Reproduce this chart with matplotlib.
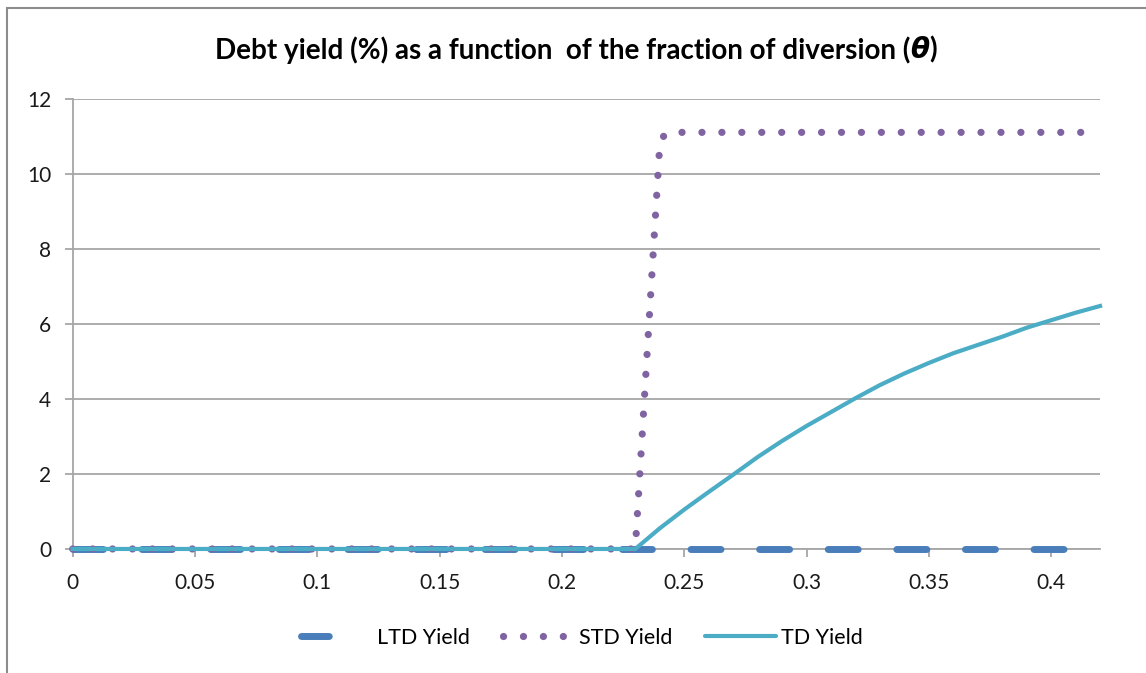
import matplotlib
matplotlib.use('Agg')
import matplotlib.pyplot as plt
from matplotlib.patches import Rectangle
from matplotlib.lines import Line2D

# Dados
ltd_x = [0.0, 0.41]
ltd_y = [0.0, 0.0]

std_x = [0.0, 0.23, 0.2400, 0.2415, 0.2435, 0.42]
std_y = [0.0, 0.0, 10.77, 11.00, 11.11, 11.11]

td_x = [0.0, 0.23, 0.24, 0.25, 0.26, 0.27, 0.28, 0.29, 0.30, 0.31, 0.32,
        0.33, 0.34, 0.35, 0.36, 0.37, 0.38, 0.39, 0.40, 0.41, 0.42]
td_y = [0.0, 0.0, 0.55, 1.05, 1.52, 1.98, 2.45, 2.88, 3.28, 3.65, 4.02,
        4.37, 4.68, 4.96, 5.22, 5.44, 5.66, 5.90, 6.10, 6.30, 6.48]

x_ticks = [0, 0.05, 0.1, 0.15, 0.2, 0.25, 0.3, 0.35, 0.4]
x_tick_labels = ['0', '0.05', '0.1', '0.15', '0.2', '0.25', '0.3', '0.35', '0.4']
y_ticks = [0, 2, 4, 6, 8, 10, 12]

series_names = ['LTD Yield', 'STD Yield', 'TD Yield']
ltd_color = '#4a7ebb'
std_color = '#8064a2'
td_color = '#4bacc6'

plt.rcParams['font.family'] = ['Lato', 'DejaVu Sans']

fig = plt.figure(figsize=(11.46, 6.73), dpi=100)
ax = fig.add_axes([0.0634, 0.1843, 0.8965, 0.6686])

grid_color = '#a6a6a6'

# borda do gráfico (só esquerda e topo ficam visíveis)
fig.patches.append(Rectangle((7 / 1146, -0.05), 1.2, 1 - 8 / 673 + 0.05,
                             transform=fig.transFigure, fill=False,
                             edgecolor='#8c8c8c', linewidth=1.5))

ax.plot(ltd_x, ltd_y, color=ltd_color, linewidth=5.0,
        linestyle=(0, (4.32, 5.56)), dash_capstyle='round',
        zorder=3, clip_on=False)
ax.plot(std_x, std_y, color=std_color, linewidth=5.2,
        linestyle=(0, (0.01, 2.75)), dash_capstyle='round',
        zorder=4, clip_on=False)
ax.plot(td_x, td_y, color=td_color, linewidth=3.0,
        zorder=5, clip_on=False)

ax.set_xlim(0, 0.42)
ax.set_ylim(0, 12)
ax.set_xticks(x_ticks)
ax.set_xticklabels(x_tick_labels)
ax.set_yticks(y_ticks)

ax.grid(axis='y', color=grid_color, linewidth=1.3)
ax.set_axisbelow(True)
for s in ['top', 'right']:
    ax.spines[s].set_visible(False)
for s in ['left', 'bottom']:
    ax.spines[s].set_color(grid_color)
    ax.spines[s].set_linewidth(1.3)
ax.tick_params(axis='both', colors=grid_color, labelcolor='#1a1a1a',
               labelsize=15, length=5.5, width=1.3)
ax.tick_params(axis='x', pad=12)
ax.tick_params(axis='y', pad=10)

# título com θ em negrito itálico
t1 = fig.text(215 / 1146, 1 - 50 / 673,
              'Debt yield (%) as a function  of the fraction of diversion (',
              fontsize=20, fontweight='bold', va='center', ha='left')
t2 = ax.annotate('θ', xycoords=t1, xy=(1, 0), va='bottom',
                 fontsize=20, fontweight='bold', fontstyle='italic',
                 family=['DejaVu Sans'], annotation_clip=False)
ax.annotate(')', xycoords=t2, xy=(1, 0), va='bottom',
            fontsize=20, fontweight='bold', annotation_clip=False)

# legenda com marcas próprias (um traço só para LTD)
handles = [
    Line2D([], [], color=ltd_color, linewidth=5.0,
           linestyle=(0, (4.0, 20)), dash_capstyle='round'),
    Line2D([], [], color=std_color, linewidth=5.2,
           linestyle=(0, (0.01, 2.75)), dash_capstyle='round'),
    Line2D([], [], color=td_color, linewidth=3.0, solid_capstyle='round'),
]
fig.legend(handles, series_names, loc='center',
           bbox_to_anchor=(582 / 1146, 1 - 638 / 673),
           ncol=3, frameon=False, fontsize=15.5, handlelength=3.3,
           handletextpad=0.25, columnspacing=1.5)

plt.savefig('out.png', dpi=100)
